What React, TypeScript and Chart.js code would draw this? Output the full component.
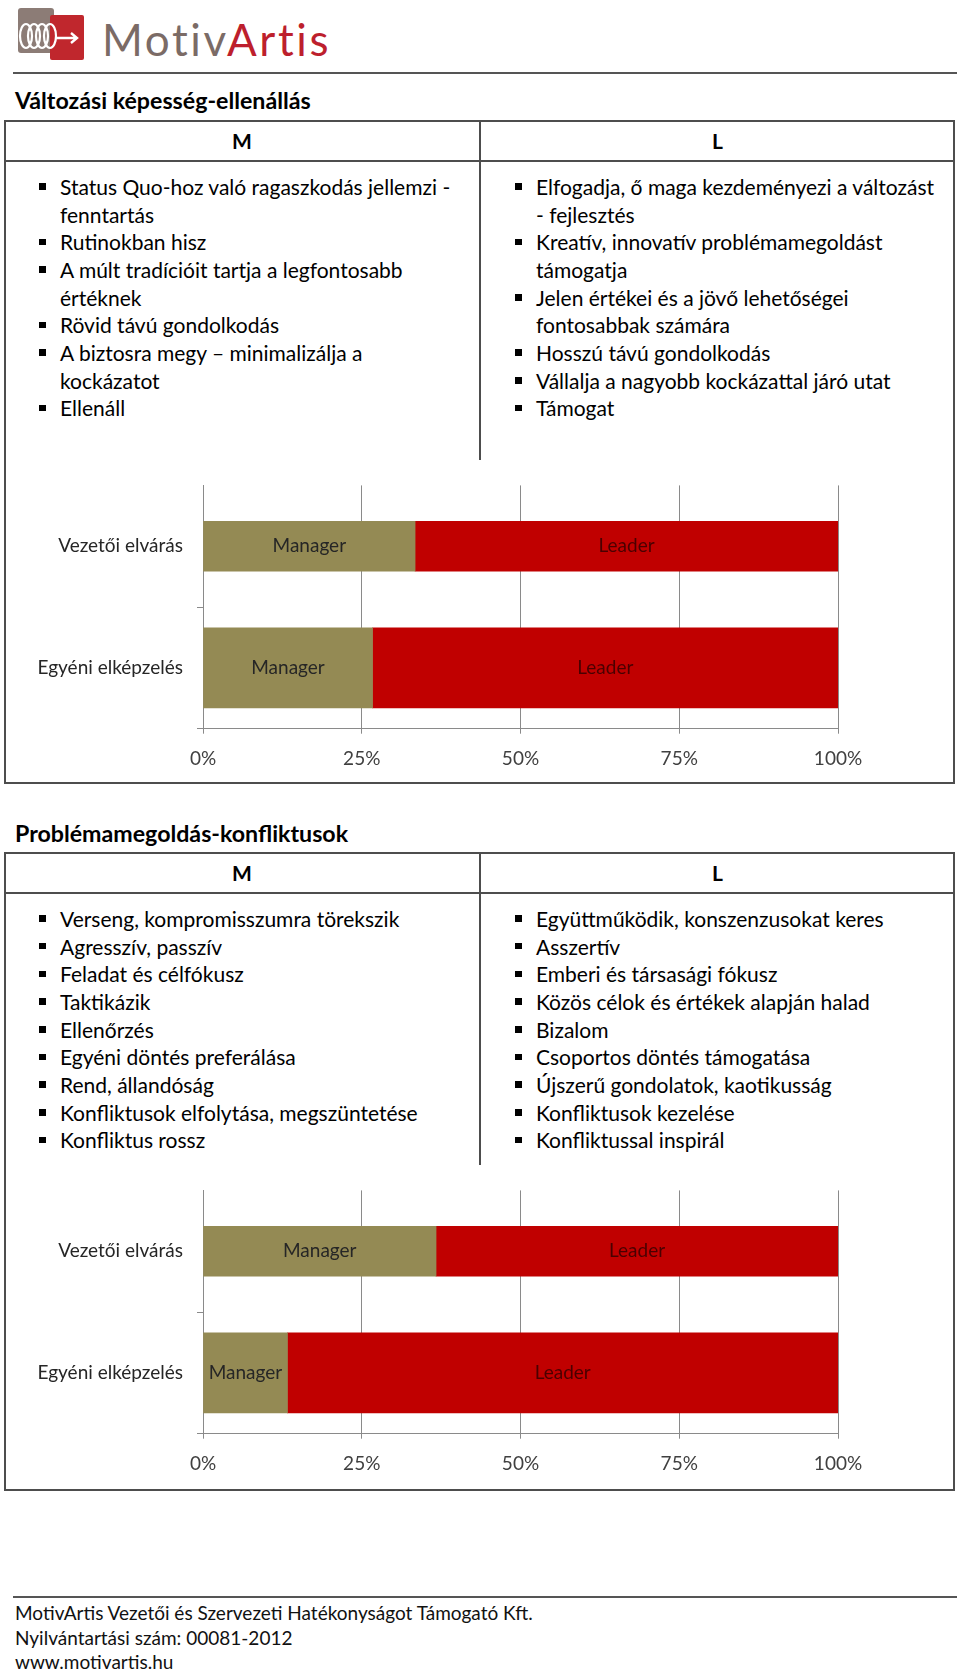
import React, { useEffect, useRef } from 'react';
import { Chart, registerables } from 'chart.js';

Chart.register(...registerables);

// ---- chart data ----
const categories = ['Vezetői elvárás', 'Egyéni elképzelés'];
const seriesNames = ['Manager', 'Leader'];
const xTickValues = [0, 25, 50, 75, 100];
const change_manager = [33.4, 26.7];
const change_leader = [66.6, 73.3];
const conflict_manager = [36.7, 13.3];
const conflict_leader = [63.3, 86.7];

// ---- table text ----
const changeM = [
  'Status Quo-hoz való ragaszkodás jellemzi -\nfenntartás',
  'Rutinokban hisz',
  'A múlt tradícióit tartja a legfontosabb\nértéknek',
  'Rövid távú gondolkodás',
  'A biztosra megy – minimalizálja a\nkockázatot',
  'Ellenáll',
];
const changeL = [
  'Elfogadja, ő maga kezdeményezi a változást\n- fejlesztés',
  'Kreatív, innovatív problémamegoldást\ntámogatja',
  'Jelen értékei és a jövő lehetőségei\nfontosabbak számára',
  'Hosszú távú gondolkodás',
  'Vállalja a nagyobb kockázattal járó utat',
  'Támogat',
];
const conflictM = [
  'Verseng, kompromisszumra törekszik',
  'Agresszív, passzív',
  'Feladat és célfókusz',
  'Taktikázik',
  'Ellenőrzés',
  'Egyéni döntés preferálása',
  'Rend, állandóság',
  'Konfliktusok elfolytása, megszüntetése',
  'Konfliktus rossz',
];
const conflictL = [
  'Együttműködik, konszenzusokat keres',
  'Asszertív',
  'Emberi és társasági fókusz',
  'Közös célok és értékek alapján halad',
  'Bizalom',
  'Csoportos döntés támogatása',
  'Újszerű gondolatok, kaotikusság',
  'Konfliktusok kezelése',
  'Konfliktussal inspirál',
];

const FONT = 'Lato, Carlito, "Open Sans", sans-serif';
const seriesColors = ['#948A54', '#C00000'];
const labelColors = ['#262626', '#4a0000'];
const rowThickness = [50, 80];
const GRID = '#8a8a8a';

const barLabelPlugin = {
  id: 'barLabels',
  afterDatasetsDraw(chart: any) {
    const { ctx } = chart;
    chart.data.datasets.forEach((ds: any, di: number) => {
      const meta = chart.getDatasetMeta(di);
      meta.data.forEach((el: any, i: number) => {
        if (ds.data[i] == null) return;
        const { x, y, base } = el.getProps(['x', 'y', 'base'], true);
        ctx.save();
        ctx.font = `19px ${FONT}`;
        ctx.fillStyle = ds.textColor;
        ctx.textAlign = 'center';
        ctx.textBaseline = 'middle';
        ctx.fillText(ds.label, (x + base) / 2, y);
        ctx.restore();
      });
    });
  },
};

function StackedBar({ top, padTop, manager, leader }: { top: number; padTop: number; manager: number[]; leader: number[] }) {
  const ref = useRef<HTMLCanvasElement>(null);
  useEffect(() => {
    let chart: Chart | null = null;
    let cancelled = false;
    const values = [manager, leader];
    const datasets: any[] = [];
    categories.forEach((_, r) => {
      seriesNames.forEach((name, s) => {
        datasets.push({
          label: name,
          data: categories.map((__, i) => (i === r ? values[s][i] : null)),
          backgroundColor: seriesColors[s],
          textColor: labelColors[s],
          barThickness: rowThickness[r],
          borderWidth: 0,
        });
      });
    });
    const make = () => {
      if (cancelled || !ref.current) return;
      chart = new Chart(ref.current, {
        type: 'bar',
        data: { labels: categories, datasets },
        options: {
          indexAxis: 'y',
          animation: false,
          responsive: false,
          layout: { padding: { left: 0, right: 122, top: padTop, bottom: 0 } },
          plugins: { legend: { display: false }, tooltip: { enabled: false } },
          scales: {
            x: {
              stacked: true,
              min: 0,
              max: 100,
              afterBuildTicks: (scale: any) => {
                scale.ticks = xTickValues.map((v) => ({ value: v }));
              },
              afterFit: (scale: any) => {
                scale.height = 61.3;
              },
              grid: { color: GRID, lineWidth: 1, tickLength: 5, drawTicks: true },
              border: { display: true, color: GRID, width: 1 },
              ticks: {
                padding: 14,
                color: '#404040',
                font: { family: FONT, size: 19 },
                callback: (v: any) => `${v}%`,
              },
            },
            y: {
              stacked: true,
              afterFit: (scale: any) => {
                scale.width = 203;
              },
              grid: {
                drawOnChartArea: false,
                drawTicks: true,
                tickLength: 6,
                offset: true,
                color: (c: any) => (c.index === 0 ? 'rgba(0,0,0,0)' : GRID),
              },
              border: { display: true, color: GRID, width: 1 },
              ticks: {
                padding: 14,
                color: '#262626',
                font: { family: FONT, size: 19 },
              },
            },
          },
        },
        plugins: [barLabelPlugin],
      } as any);
    };
    if ((document as any).fonts && (document as any).fonts.load) {
      (document as any).fonts.load(`19px ${FONT}`).then(make, make);
    } else make();
    return () => {
      cancelled = true;
      if (chart) chart.destroy();
    };
  }, []);
  return (
    <canvas
      ref={ref}
      width={960}
      height={330}
      style={{ position: 'absolute', left: 0, top, width: 960, height: 330 }}
    />
  );
}

const LH = 27.7;

function BulletList({ items, left, textLeft, firstCenter }: { items: string[]; left: number; textLeft: number; firstCenter: number }) {
  return (
    <div style={{ position: 'absolute', left, top: firstCenter - LH / 2, width: 470 }}>
      {items.map((t, i) => (
        <div key={i} style={{ position: 'relative', paddingLeft: textLeft - left, lineHeight: `${LH}px`, fontSize: 21, whiteSpace: 'pre', color: '#000' }}>
          <span style={{ position: 'absolute', left: 0, top: LH / 2 - 3.5, width: 6.5, height: 6.5, background: '#000' }} />
          {t}
        </div>
      ))}
    </div>
  );
}

function Section({ title, titleY, boxTop, headerBottom, dividerBottom, boxBottom, left, right }: any) {
  const line = '#4d4d4d';
  return (
    <>
      <div style={{ position: 'absolute', left: 15, top: titleY - 14, lineHeight: '28px', fontSize: 23.2, fontWeight: 700, color: '#000', whiteSpace: 'nowrap' }}>{title}</div>
      <div style={{ position: 'absolute', left: 4, top: boxTop, width: 951, height: boxBottom - boxTop, border: `2px solid ${line}`, boxSizing: 'border-box' }} />
      <div style={{ position: 'absolute', left: 4, top: headerBottom - 1, width: 951, height: 2, background: line }} />
      <div style={{ position: 'absolute', left: 478.5, top: boxTop, width: 2, height: dividerBottom - boxTop, background: line }} />
      <div style={{ position: 'absolute', left: 4, width: 476, top: boxTop, height: headerBottom - boxTop, display: 'flex', alignItems: 'center', justifyContent: 'center', fontWeight: 700, fontSize: 21 }}>M</div>
      <div style={{ position: 'absolute', left: 480, width: 475, top: boxTop, height: headerBottom - boxTop, display: 'flex', alignItems: 'center', justifyContent: 'center', fontWeight: 700, fontSize: 21 }}>L</div>
      <BulletList items={left} left={39} textLeft={60} firstCenter={headerBottom + 26} />
      <BulletList items={right} left={515} textLeft={536} firstCenter={headerBottom + 26} />
    </>
  );
}

function Logo() {
  return (
    <>
      <svg style={{ position: 'absolute', left: 0, top: 0 }} width={100} height={70}>
        <rect x={18} y={8} width={36} height={45} rx={3} fill="#8c7c76" />
        <rect x={50} y={15} width={34} height={45} rx={2} fill="#c0272d" />
        {[26, 34, 42, 50].map((cx) => (
          <ellipse key={cx} cx={cx} cy={36} rx={6} ry={12} fill="none" stroke="#fff" strokeWidth={2.2} />
        ))}
        <path d="M56 38 L76 38 M71 33 L77 38 L71 43" fill="none" stroke="#fff" strokeWidth={2.4} />
      </svg>
      <div style={{ position: 'absolute', left: 102, top: 18, lineHeight: '42px', fontSize: 44, letterSpacing: 2.6, whiteSpace: 'nowrap', fontFamily: FONT }}>
        <span style={{ color: '#7b6b66' }}>Motiv</span>
        <span style={{ color: '#bd1f2d' }}>Artis</span>
      </div>
    </>
  );
}

export default function App() {
  return (
    <div style={{ position: 'absolute', left: 0, top: 0, width: 960, height: 1672, background: '#fff', fontFamily: FONT, overflow: 'hidden', color: '#000' }}>
      <Logo />
      <div style={{ position: 'absolute', left: 13, top: 72, width: 944, height: 2, background: '#555' }} />

      <Section
        title="Változási képesség-ellenállás"
        titleY={100}
        boxTop={120}
        headerBottom={160.7}
        dividerBottom={460}
        boxBottom={784}
        left={changeM}
        right={changeL}
      />
      <StackedBar top={460} padTop={24} manager={change_manager} leader={change_leader} />

      <Section
        title="Problémamegoldás-konfliktusok"
        titleY={833}
        boxTop={852.3}
        headerBottom={892.7}
        dividerBottom={1165}
        boxBottom={1491}
        left={conflictM}
        right={conflictL}
      />
      <StackedBar top={1165} padTop={25} manager={conflict_manager} leader={conflict_leader} />

      <div style={{ position: 'absolute', left: 13, top: 1596, width: 944, height: 2, background: '#555' }} />
      {[
        'MotivArtis Vezetői és Szervezeti Hatékonyságot Támogató Kft.',
        'Nyilvántartási szám: 00081-2012',
        'www.motivartis.hu',
      ].map((t, i) => (
        <div key={i} style={{ position: 'absolute', left: 15, top: 1613 + i * 24.5 - 12, lineHeight: '24px', fontSize: 19, whiteSpace: 'nowrap', color: '#111' }}>
          {t}
        </div>
      ))}
    </div>
  );
}
